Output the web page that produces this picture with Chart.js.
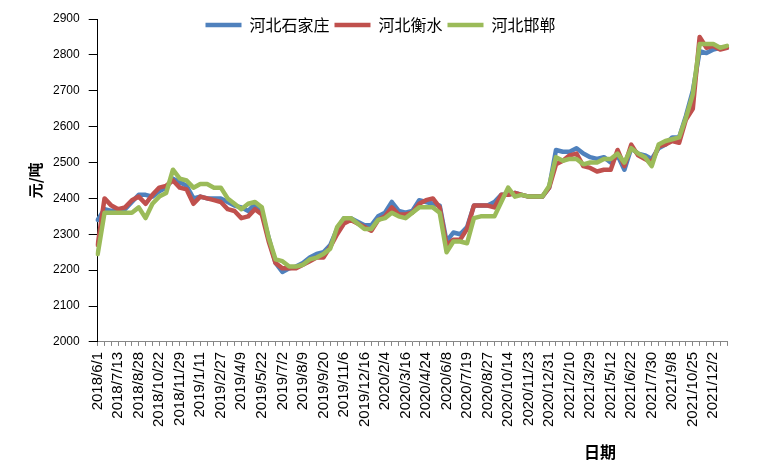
<!DOCTYPE html>
<html>
<head>
<meta charset="utf-8">
<script src="https://cdn.jsdelivr.net/npm/chart.js@4.4.0/dist/chart.umd.min.js"></script>
<style>body{margin:0;background:#fff}</style>
</head>
<body>
<canvas id="priceChart" width="767" height="469"></canvas>
<script>
// 每个刻度约10个交易日，每3个刻度标一个日期
const dateLabels = ["2018/6/1", "2018/7/13", "2018/8/28", "2018/10/22", "2018/11/29", "2019/1/11",
  "2019/2/27", "2019/4/9", "2019/5/22", "2019/7/2", "2019/8/9", "2019/9/20", "2019/11/6",
  "2019/12/16", "2020/2/4", "2020/3/16", "2020/4/24", "2020/6/8", "2020/7/19", "2020/8/27",
  "2020/10/14", "2020/11/23", "2020/12/31", "2021/2/10", "2021/3/29", "2021/5/12", "2021/6/22",
  "2021/7/30", "2021/9/8", "2021/10/25", "2021/12/2"];

const shijiazhuang = [2340, 2370, 2365, 2370, 2370, 2390, 2410, 2410, 2405, 2420,
  2430, 2455, 2445, 2435, 2400, 2405, 2400, 2400, 2400, 2390,
  2380, 2375, 2365, 2385, 2360, 2290, 2220, 2195, 2205, 2210,
  2220, 2235, 2245, 2250, 2270, 2315, 2345, 2345, 2335, 2325,
  2325, 2350, 2360, 2390, 2365, 2360, 2365, 2395, 2390, 2385,
  2380, 2280, 2305, 2300, 2320, 2380, 2380, 2380, 2390, 2410,
  2410, 2415, 2410, 2405, 2405, 2405, 2430, 2535, 2530, 2530,
  2540, 2525, 2515, 2510, 2515, 2500, 2520, 2480, 2540, 2525,
  2520, 2510, 2540, 2550, 2570, 2570, 2630, 2700, 2810, 2805,
  2815, 2820, 2820];

const hengshui = [2270, 2400, 2380, 2370, 2375, 2395, 2405, 2385, 2410, 2430,
  2435, 2450, 2430, 2425, 2385, 2405, 2400, 2395, 2390, 2370,
  2365, 2345, 2350, 2370, 2355, 2280, 2220, 2205, 2205, 2205,
  2215, 2225, 2235, 2235, 2265, 2300, 2330, 2340, 2330, 2320,
  2310, 2340, 2350, 2375, 2355, 2355, 2360, 2385, 2395, 2400,
  2375, 2270, 2285, 2285, 2315, 2380, 2380, 2380, 2375, 2410,
  2410, 2415, 2410, 2405, 2405, 2405, 2430, 2495, 2505, 2520,
  2525, 2490, 2485, 2475, 2480, 2480, 2535, 2490, 2550, 2520,
  2510, 2500, 2545, 2550, 2560, 2555, 2620, 2650, 2850, 2820,
  2825, 2815, 2820];

const handan = [2245, 2360, 2360, 2360, 2360, 2360, 2375, 2345, 2385, 2405,
  2415, 2480, 2455, 2450, 2430, 2440, 2440, 2430, 2430, 2400,
  2385, 2370, 2385, 2390, 2375, 2290, 2230, 2225, 2210, 2210,
  2215, 2230, 2235, 2245, 2260, 2320, 2345, 2345, 2330, 2315,
  2315, 2340, 2345, 2360, 2350, 2345, 2360, 2375, 2375, 2375,
  2360, 2250, 2280, 2280, 2275, 2345, 2350, 2350, 2350, 2390,
  2430, 2405, 2410, 2405, 2405, 2405, 2435, 2515, 2505, 2510,
  2510, 2495, 2500, 2500, 2510, 2510, 2525, 2500, 2540, 2525,
  2515, 2490, 2550, 2560, 2565, 2570, 2625, 2690, 2830, 2830,
  2830, 2820, 2825];

const categories = dateLabels.flatMap(d => [d, "", ""]);

Chart.defaults.font.family = "'Liberation Sans', sans-serif";
Chart.defaults.color = "#000";

// 图例压到绘图区顶部（不占用绘图区高度）
const legendShift = {
  id: "legendShift",
  afterLayout(chart) {
    const lg = chart.legend;
    lg.left += 8;
    lg.right += 8;
    lg.top += 24;
    lg.bottom += 24;
  }
};

// 横轴标题 "日期"
const xTitle = {
  id: "xTitle",
  afterDraw(chart) {
    const { ctx, chartArea } = chart;
    ctx.save();
    ctx.font = "bold 16px 'Noto Sans CJK SC'";
    ctx.fillStyle = "#000";
    ctx.textAlign = "center";
    ctx.textBaseline = "middle";
    ctx.fillText("日期", chartArea.left + (chartArea.right - chartArea.left) * 0.798, chart.height - 17);
    ctx.restore();
  }
};

const lineStyle = {
  borderWidth: 4.5,
  pointRadius: 0,
  tension: 0,
  borderJoinStyle: "round",
  borderCapStyle: "round",
  fill: false
};

new Chart(document.getElementById("priceChart").getContext("2d"), {
  type: "line",
  data: {
    labels: categories,
    datasets: [
      { label: "河北石家庄", data: shijiazhuang, borderColor: "#4F81BD", backgroundColor: "#4F81BD", order: 3, ...lineStyle },
      { label: "河北衡水", data: hengshui, borderColor: "#C0504D", backgroundColor: "#C0504D", order: 2, ...lineStyle },
      { label: "河北邯郸", data: handan, borderColor: "#9BBB59", backgroundColor: "#9BBB59", order: 1, ...lineStyle }
    ]
  },
  options: {
    responsive: false,
    animation: false,
    layout: { padding: { left: 18, right: 40, top: -12, bottom: 36 } },
    plugins: {
      legend: {
        position: "top",
        align: "center",
        labels: {
          usePointStyle: true,
          pointStyle: "line",
          pointStyleWidth: 36,
          padding: 5,
          color: "#000",
          font: { size: 16, family: "'Noto Sans CJK SC'" },
          sort: (a, b) => a.datasetIndex - b.datasetIndex
        }
      },
      tooltip: { enabled: false }
    },
    scales: {
      x: {
        offset: false,
        grid: { drawOnChartArea: false, drawTicks: true, tickLength: 4, color: "#868686" },
        border: { color: "#868686" },
        ticks: { autoSkip: false, minRotation: 90, maxRotation: 90, padding: 6, font: { size: 15 } }
      },
      y: {
        min: 2000,
        max: 2900,
        grid: { drawOnChartArea: false, tickLength: 9, color: "#000" },
        border: { color: "#000" },
        ticks: { stepSize: 100, padding: 9, font: { size: 12 }, callback: v => String(v) },
        title: {
          display: true,
          text: "元/吨",
          color: "#000",
          padding: { top: 8, bottom: 0 },
          font: { size: 15, weight: "bold", family: "'Noto Sans CJK SC'" }
        }
      }
    }
  },
  plugins: [legendShift, xTitle]
});
</script>
</body>
</html>
